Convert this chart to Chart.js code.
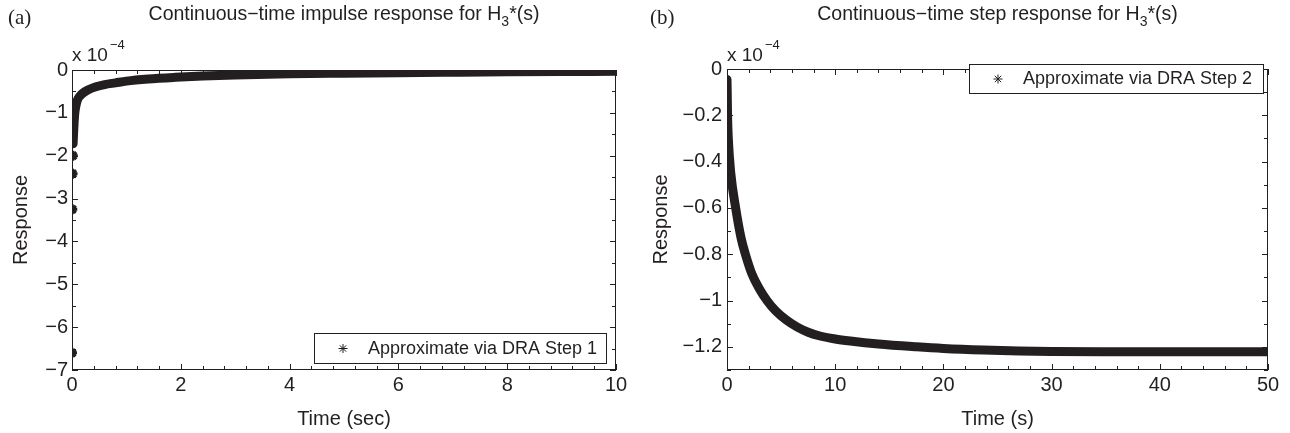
<!DOCTYPE html>
<html>
<head>
<meta charset="utf-8">
<script src="https://cdn.jsdelivr.net/npm/chart.js@4.4.1/dist/chart.umd.min.js"></script>
<style>
html, body { margin: 0; padding: 0; background: #fff; }
#wrap { position: relative; width: 1290px; height: 433px; }
canvas { position: absolute; top: 0; }
#chartA { left: 0; }
#chartB { left: 645px; }
</style>
</head>
<body>
<div id="wrap">
  <canvas id="chartA" width="645" height="433"></canvas>
  <canvas id="chartB" width="645" height="433"></canvas>
</div>
<script>
// (a) impulse response, y in units of 1e-4
var impulseSparseT = [0, 0.005, 0.01, 0.015];
var impulseSparseY = [-6.6, -3.25, -2.42, -2.0];
var impulseT = [0.02, 0.03, 0.04, 0.05, 0.07, 0.1, 0.15, 0.2, 0.3, 0.44, 0.6, 0.8, 1.0, 1.4, 1.9, 2.4, 3, 4, 5, 6, 7, 8, 9, 10];
var impulseY = [-1.72, -1.45, -1.2, -1.02, -0.85, -0.7, -0.6, -0.54, -0.46, -0.39, -0.34, -0.3, -0.26, -0.21, -0.17, -0.14, -0.115, -0.09, -0.075, -0.062, -0.052, -0.043, -0.036, -0.03];

// (b) step response, y in units of 1e-4
var stepT = [0, 0.02, 0.05, 0.12, 0.35, 0.8, 1.3, 1.7, 2.3, 3, 3.7, 4.5, 5.5, 6.5, 7.5, 8.5, 10, 11.4, 14, 17.5, 20, 23.7, 27, 30, 35, 40, 45, 50];
var stepY = [-0.045, -0.1, -0.2, -0.3, -0.45, -0.6, -0.73, -0.8, -0.885, -0.95, -1.0, -1.045, -1.085, -1.115, -1.137, -1.152, -1.166, -1.175, -1.188, -1.2, -1.207, -1.214, -1.218, -1.22, -1.221, -1.221, -1.221, -1.221];

// tick labels (major) and minor steps
var xMajorA = [0, 2, 4, 6, 8, 10];
var yMajorA = [0, -1, -2, -3, -4, -5, -6, -7];
var xMajorB = [0, 10, 20, 30, 40, 50];
var yMajorB = [0, -0.2, -0.4, -0.6, -0.8, -1, -1.2];

var BLACK = '#231f20';
var SANS = "'Liberation Sans', Arial, Helvetica, sans-serif";
var SERIF = "'Liberation Serif', 'Times New Roman', serif";

function pts(xs, ys) {
	return xs.map(function(x, i) { return { x: x, y: ys[i] }; });
}
function isMajor(v, majors) {
	return majors.some(function(m) { return Math.abs(m - v) < 1e-6; });
}
function fmt(v) {
	if (Math.abs(v) < 1e-9) return '0';
	return String(Math.round(v * 10) / 10).replace('-', '\u2212');
}
function tickList(min, max, step) {
	var out = [];
	var n = Math.round((max - min) / step);
	for (var i = 0; i <= n; i++) out.push(Math.round((min + i * step) * 1000) / 1000);
	return out;
}

var framePlugin = {
	id: 'frame',
	afterDraw: function(chart, args, o) {
		var ctx = chart.ctx, a = chart.chartArea;
		var sx = chart.scales.x, sy = chart.scales.y;
		ctx.save();
		ctx.strokeStyle = BLACK;
		ctx.fillStyle = BLACK;
		ctx.lineWidth = 1;
		ctx.strokeRect(a.left + 0.5, a.top + 0.5, a.right - a.left - 1, a.bottom - a.top - 1);
		ctx.beginPath();
		sx.ticks.forEach(function(t) {
			var len = isMajor(t.value, o.xMajor) ? 6 : 4;
			var px = Math.round(sx.getPixelForValue(t.value)) + 0.5;
			ctx.moveTo(px, a.bottom); ctx.lineTo(px, a.bottom - len);
			ctx.moveTo(px, a.top); ctx.lineTo(px, a.top + len);
		});
		sy.ticks.forEach(function(t) {
			var len = isMajor(t.value, o.yMajor) ? 6 : 4;
			var py = Math.round(sy.getPixelForValue(t.value)) + 0.5;
			ctx.moveTo(a.left, py); ctx.lineTo(a.left + len, py);
			ctx.moveTo(a.right, py); ctx.lineTo(a.right - len, py);
		});
		ctx.stroke();

		// title with subscript
		var cx = (a.left + a.right) / 2;
		var parts = [
			{ t: o.title, f: '19.5px ' + SANS, dy: 0 },
			{ t: '3', f: '14px ' + SANS, dy: 6 },
			{ t: '*(s)', f: '19.5px ' + SANS, dy: 0 }
		];
		var w = 0;
		parts.forEach(function(p) { ctx.font = p.f; p.w = ctx.measureText(p.t).width; w += p.w; });
		var x = cx - w / 2;
		ctx.textBaseline = 'alphabetic';
		ctx.textAlign = 'left';
		parts.forEach(function(p) { ctx.font = p.f; ctx.fillText(p.t, x, 20 + p.dy); x += p.w; });

		// panel letter
		ctx.font = '21px ' + SERIF;
		ctx.fillText(o.letter, o.letterX, 24);

		// exponent
		ctx.font = '19px ' + SANS;
		ctx.fillText('x 10', a.left, 61);
		var ew = ctx.measureText('x 10').width;
		ctx.font = '13px ' + SANS;
		ctx.fillText('\u22124', a.left + ew + 2, 49);

		// legend
		var b = o.legendBox;
		ctx.fillStyle = '#fff';
		ctx.fillRect(b.x, b.y, b.w, b.h);
		ctx.strokeRect(b.x + 0.5, b.y + 0.5, b.w, b.h);
		ctx.fillStyle = BLACK;
		Chart.helpers.drawPoint(ctx, { pointStyle: 'star', radius: 4.5, borderWidth: 2.6, rotation: 0 }, b.x + 29, b.y + b.h / 2 + 0.5);
		ctx.font = '18px ' + SANS;
		ctx.textBaseline = 'middle';
		ctx.fillText(o.legendLabel, b.x + 54, b.y + b.h / 2 + 1);
		ctx.restore();
	}
};

function makeChart(id, cfg) {
	var allX = tickList(cfg.xMin, cfg.xMax, cfg.xStep);
	var allY = tickList(cfg.yMin, cfg.yMax, cfg.yStep);
	return new Chart(document.getElementById(id).getContext('2d'), {
		type: 'line',
		data: {
			datasets: [{
				data: cfg.band,
				borderColor: BLACK,
				backgroundColor: BLACK,
				borderWidth: 9,
				borderCapStyle: 'round',
				borderJoinStyle: 'round',
				cubicInterpolationMode: 'monotone',
				pointRadius: 0,
				fill: false
			}, {
				data: cfg.sparse,
				showLine: false,
				pointStyle: 'star',
				pointRadius: 5,
				pointBorderWidth: 3,
				pointBorderColor: BLACK,
				pointBackgroundColor: BLACK
			}]
		},
		options: {
			responsive: false,
			animation: false,
			events: [],
			layout: { padding: cfg.padding },
			plugins: {
				legend: { display: false },
				tooltip: { enabled: false },
				frame: cfg.frame
			},
			scales: {
				x: {
					type: 'linear',
					min: cfg.xMin, max: cfg.xMax,
					afterBuildTicks: function(s) { s.ticks = allX.map(function(v) { return { value: v }; }); },
					afterFit: function(s) { s.height = 63; },
					grid: { display: false, drawTicks: false },
					border: { display: false },
					ticks: {
						autoSkip: false, maxRotation: 0, padding: 3,
						color: BLACK, font: { family: SANS, size: 20 },
						callback: function(v) { return isMajor(v, cfg.frame.xMajor) ? fmt(v) : ''; }
					},
					title: { display: true, text: cfg.xTitle, color: BLACK, font: { family: SANS, size: 20 }, padding: { top: 0, bottom: 2 } }
				},
				y: {
					type: 'linear',
					min: cfg.yMin, max: cfg.yMax,
					afterBuildTicks: function(s) { s.ticks = allY.map(function(v) { return { value: v }; }); },
					afterFit: function(s) { s.width = cfg.yWidth; },
					grid: { display: false, drawTicks: false },
					border: { display: false },
					ticks: {
						autoSkip: false, padding: cfg.yPad,
						color: BLACK, font: { family: SANS, size: 20 },
						callback: function(v) { return isMajor(v, cfg.frame.yMajor) ? fmt(v) : ''; }
					},
					title: { display: true, text: 'Response', color: BLACK, font: { family: SANS, size: 20 }, padding: { top: cfg.yTitlePad, bottom: 0 } }
				}
			}
		},
		plugins: [framePlugin]
	});
}

makeChart('chartA', {
	band: pts(impulseT, impulseY),
	sparse: pts(impulseSparseT, impulseSparseY),
	xMin: 0, xMax: 10, xStep: 0.4,
	yMin: -7, yMax: 0, yStep: 0.5,
	xTitle: 'Time (sec)',
	yWidth: 72, yPad: 4, yTitlePad: 9,
	padding: { left: 0, top: 70, right: 29, bottom: 0 },
	frame: {
		xMajor: xMajorA, yMajor: yMajorA,
		title: 'Continuous\u2212time impulse response for H',
		letter: '(a)', letterX: 8,
		legendLabel: 'Approximate via DRA Step 1',
		legendBox: { x: 314, y: 333, w: 292, h: 30 }
	}
});

makeChart('chartB', {
	band: pts(stepT, stepY),
	sparse: [],
	xMin: 0, xMax: 50, xStep: 2,
	yMin: -1.3, yMax: 0, yStep: 0.1,
	xTitle: 'Time (s)',
	yWidth: 82, yPad: 5, yTitlePad: 4,
	padding: { left: 0, top: 69, right: 22, bottom: 0 },
	frame: {
		xMajor: xMajorB, yMajor: yMajorB,
		title: 'Continuous\u2212time step response for H',
		letter: '(b)', letterX: 5,
		legendLabel: 'Approximate via DRA Step 2',
		legendBox: { x: 324, y: 64, w: 294, h: 29 }
	}
});
</script>
</body>
</html>
